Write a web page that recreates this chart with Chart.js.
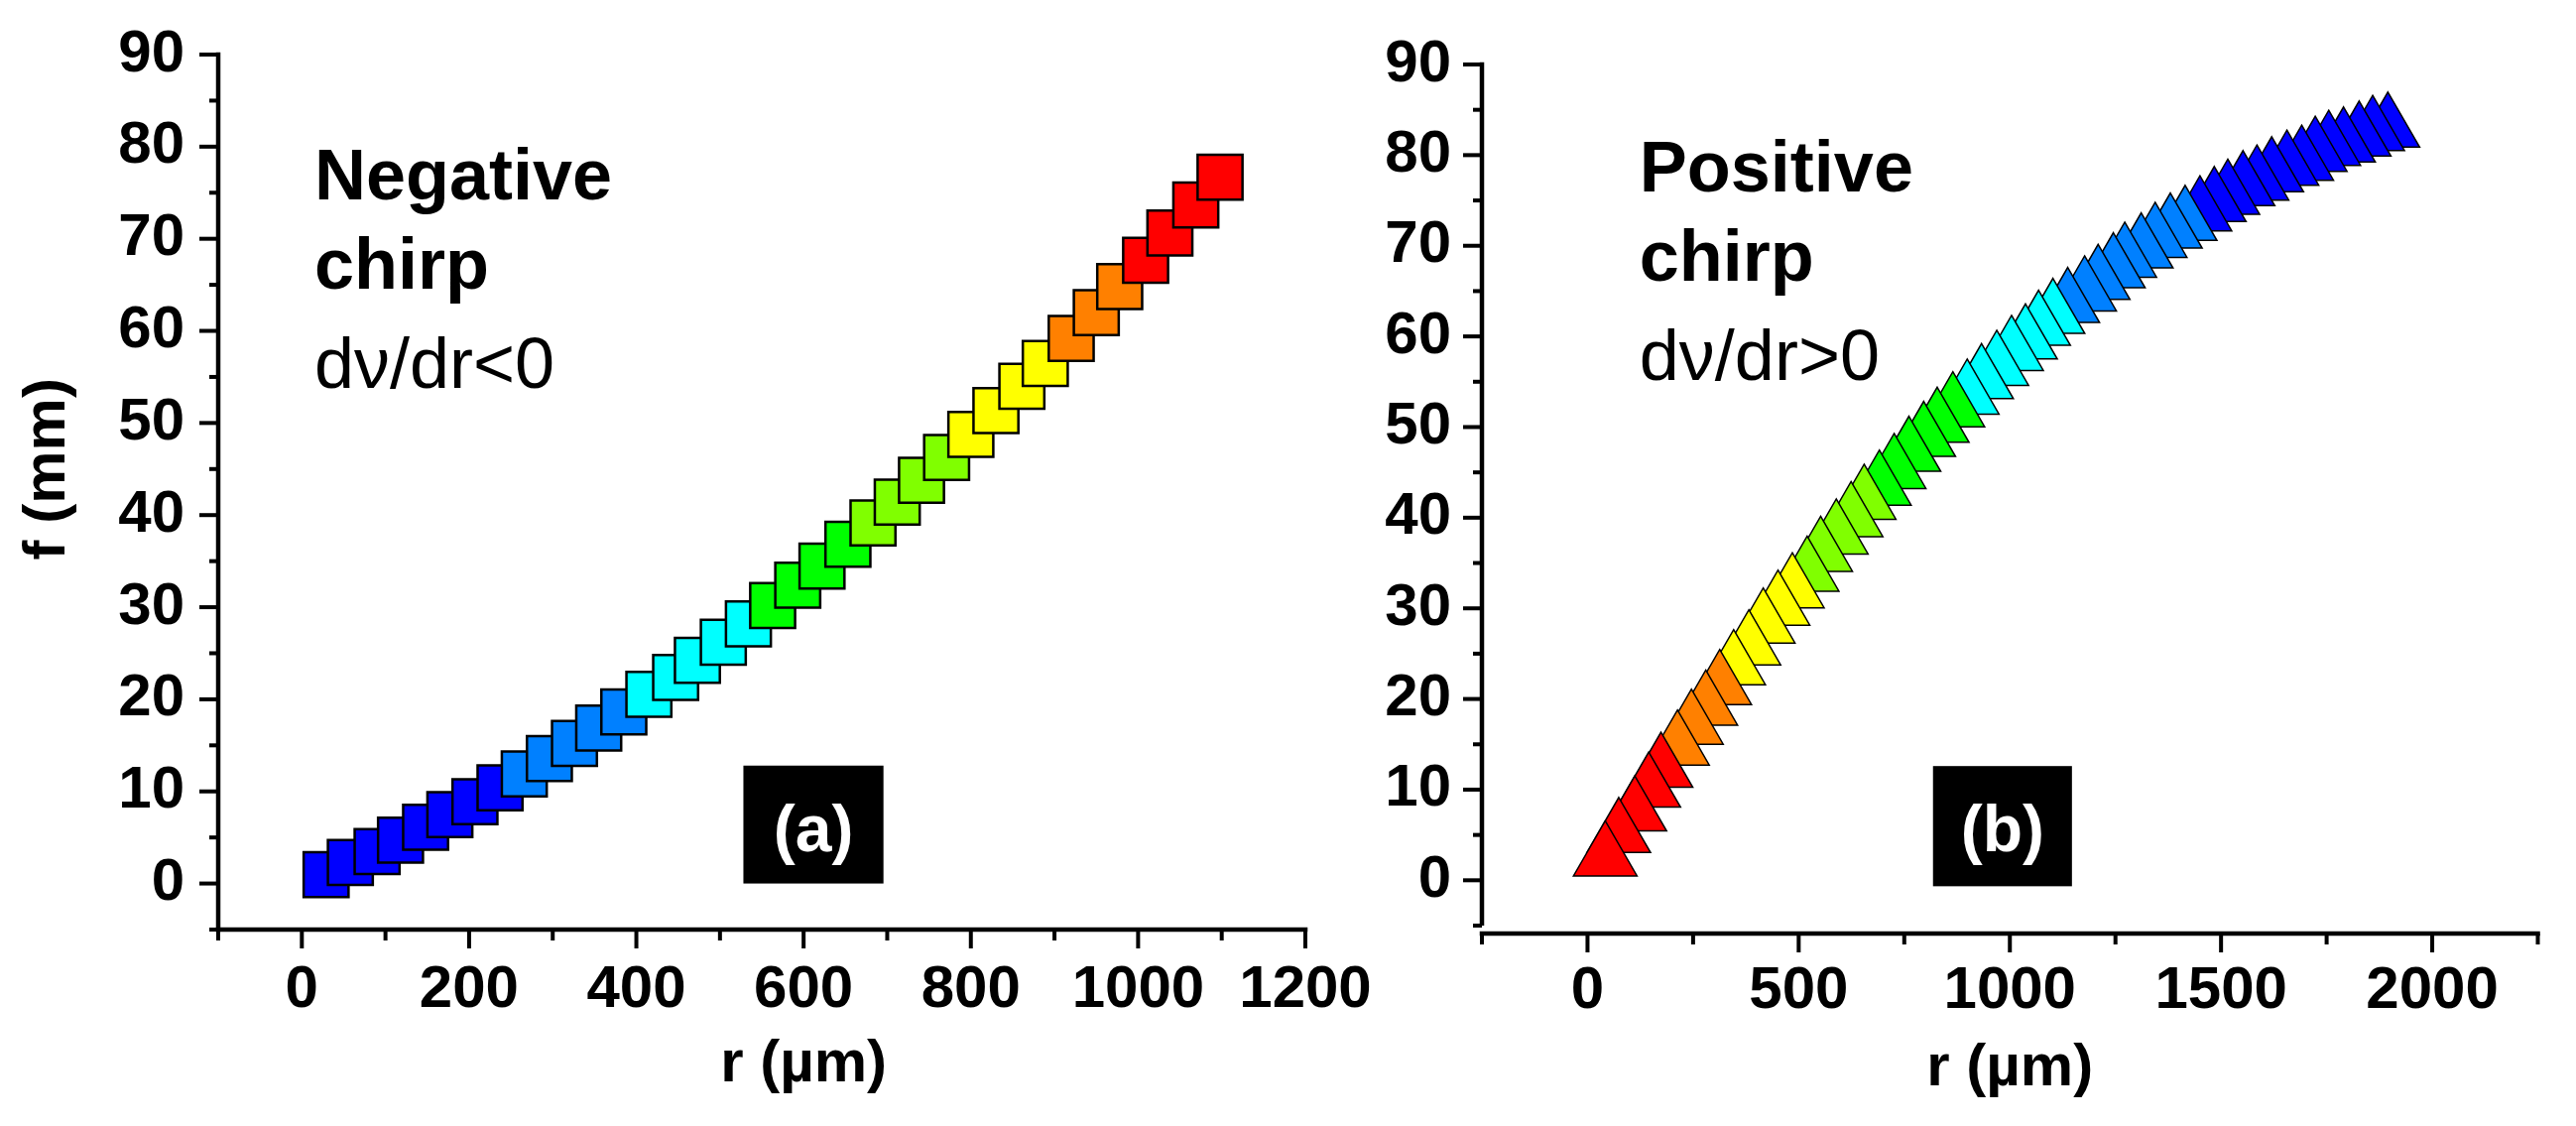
<!DOCTYPE html>
<html>
<head>
<meta charset="utf-8">
<title>Negative and positive chirp: f versus r</title>
<script src="https://cdn.jsdelivr.net/npm/chart.js@4.4.1/dist/chart.umd.min.js"></script>
<style>
  html, body { margin:0; padding:0; background:#ffffff; }
  body { width:2597px; height:1135px; position:relative; overflow:hidden; }
  canvas { position:absolute; top:0; }
  #chartA { left:0; }
  #chartB { left:1330px; }
</style>
</head>
<body>
<canvas id="chartA" width="1400" height="1135" style="width:1400px;height:1135px"></canvas>
<canvas id="chartB" width="1267" height="1135" style="width:1267px;height:1135px"></canvas>
<script>
// ---------------- data ----------------
// (a) Negative chirp : radius r (µm) and focal length f (mm)
const negR = [29, 58, 90, 118, 148, 177, 207, 237, 266, 296, 326, 355, 385, 415, 447, 473, 504, 534, 563, 593,
              622, 653, 683, 712, 741, 771, 800, 830, 861, 889, 920, 950, 978, 1009, 1038, 1069, 1098];
const negF = [0.97, 2.28, 3.47, 4.70, 6.10, 7.47, 8.87, 10.4, 11.91, 13.57, 15.22, 16.88, 18.62, 20.54, 22.37,
              24.23, 26.2, 28.2, 30.19, 32.39, 34.46, 36.83, 39.16, 41.4, 43.78, 46.26, 48.76, 51.34, 53.98,
              56.45, 59.19, 61.99, 64.82, 67.67, 70.62, 73.66, 76.69];
// (b) Positive chirp
const posR = [42, 74, 112, 145, 174, 213, 246, 280, 313, 346, 382, 416, 451, 485, 520, 552, 589, 624, 655, 691,
              726, 761, 796, 828, 865, 899, 933, 969, 1004, 1037, 1068, 1102, 1137, 1177, 1209, 1245, 1272, 1311,
              1344, 1380, 1415, 1450, 1484, 1516, 1552, 1585, 1620, 1656, 1691, 1723, 1755, 1790, 1827, 1859, 1895];
const posF = [2.50, 5.09, 7.47, 10.10, 12.29, 14.73, 17.03, 19.14, 21.41, 23.60, 25.79, 28.19, 30.17, 32.08,
              33.92, 36.11, 38.02, 39.94, 41.85, 43.41, 45.24, 47.14, 48.78, 50.34, 52.06, 53.45, 55.16, 56.63,
              58.27, 59.54, 61.04, 62.36, 63.56, 64.84, 66.11, 67.39, 68.56, 69.58, 70.75, 71.77, 72.62, 73.67,
              74.70, 75.50, 76.45, 77.06, 77.98, 78.70, 79.25, 80.24, 80.89, 81.27, 81.92, 82.54, 82.91];
// tick labels
const fTickLabels   = [0, 10, 20, 30, 40, 50, 60, 70, 80, 90];
const negRTickLabels = [0, 200, 400, 600, 800, 1000, 1200];
const posRTickLabels = [0, 500, 1000, 1500, 2000];

// ---------------- styling ----------------
const FAMILY = '"Liberation Sans", Arial, sans-serif';
Chart.defaults.font.family = 'Liberation Sans';
const tickFont = { family: 'Liberation Sans', size: 60, weight: 'bold' };
const palette = ['#0000FF', '#0080FF', '#00FFFF', '#00FF00', '#80FF00', '#FFFF00', '#FF8000', '#FF0000'];

// 8-level colour map of f (as in the original contour-coloured symbols)
function levelColours(values, reversed) {
  const lo = Math.min(...values), hi = Math.max(...values);
  return values.map(v => {
    let k = Math.min(palette.length - 1, Math.floor((v - lo) / (hi - lo) * palette.length));
    if (reversed) k = palette.length - 1 - k;
    return palette[k];
  });
}

function axis(o) {
  return {
    type: 'linear', position: o.position, min: o.min, max: o.max,
    ticks: {
      stepSize: o.step, autoSkip: false, maxRotation: 0, minRotation: 0,
      padding: o.pad, color: '#000', font: tickFont,
      callback: v => o.labels.includes(v) ? String(v) : ''
    },
    grid: { display: false, drawTicks: false },
    border: { display: false },
    afterFit: s => {
      if (o.position === 'bottom') s.height = o.size; else s.width = o.size;
      s.paddingTop = 0; s.paddingBottom = 0; s.paddingLeft = 0; s.paddingRight = 0;
    }
  };
}

function framePlugin(c) {
  return {
    id: 'frame',
    beforeDatasetsDraw(chart) {
      const { ctx, chartArea: ca, scales: { x, y } } = chart;
      ctx.save();
      ctx.strokeStyle = '#000';
      ctx.fillStyle = '#000';
      const lw = 4.5;
      const xAxisY = ca.bottom + c.xAxisOffset;
      // axis lines
      ctx.lineWidth = lw;
      ctx.beginPath();
      ctx.moveTo(ca.left, y.getPixelForValue(c.yMax) - lw / 2);
      ctx.lineTo(ca.left, y.getPixelForValue(c.yMin) + (c.xAxisOffset ? 0 : lw / 2));
      ctx.stroke();
      ctx.beginPath();
      ctx.moveTo(x.getPixelForValue(c.xMin) - lw / 2, xAxisY);
      ctx.lineTo(x.getPixelForValue(c.xMax) + lw / 2, xAxisY);
      ctx.stroke();
      // tick marks (major + minor)
      ctx.lineWidth = 4;
      for (let v = c.yMin; v <= c.yMax + 1e-9; v += c.yMinor) {
        const py = y.getPixelForValue(v);
        const len = (v % c.yMajor === 0) ? 19 : 9;
        ctx.beginPath(); ctx.moveTo(ca.left - len, py); ctx.lineTo(ca.left, py); ctx.stroke();
      }
      for (let v = c.xMin; v <= c.xMax + 1e-9; v += c.xMinor) {
        const px = x.getPixelForValue(v);
        const len = (v % c.xMajor === 0) ? 19 : 11;
        ctx.beginPath(); ctx.moveTo(px, xAxisY); ctx.lineTo(px, xAxisY + len); ctx.stroke();
      }
      // axis titles
      ctx.font = 'bold 60px ' + FAMILY;
      ctx.textAlign = 'center';
      ctx.textBaseline = 'alphabetic';
      ctx.fillText(c.xTitle, x.getPixelForValue(c.xTitleAt), xAxisY + 153);
      if (c.yTitle) {
        ctx.save();
        ctx.translate(ca.left - 155, y.getPixelForValue(c.yTitleAt));
        ctx.rotate(-Math.PI / 2);
        ctx.fillText(c.yTitle, 0, 0);
        ctx.restore();
      }
      // annotation text
      ctx.textAlign = 'left';
      c.texts.forEach(t => {
        ctx.font = t.font;
        ctx.fillText(t.text, x.getPixelForValue(t.x), y.getPixelForValue(t.y));
      });
      // panel label box
      const b = c.box;
      const bx0 = x.getPixelForValue(b.x0), bx1 = x.getPixelForValue(b.x1);
      const by0 = y.getPixelForValue(b.y0), by1 = y.getPixelForValue(b.y1);
      ctx.fillStyle = '#000';
      ctx.fillRect(bx0, by1, bx1 - bx0, by0 - by1);
      ctx.fillStyle = '#fff';
      ctx.font = 'bold 66px ' + FAMILY;
      ctx.textAlign = 'center';
      ctx.fillText(b.label, (bx0 + bx1) / 2, y.getPixelForValue(b.ly));
      ctx.restore();
    }
  };
}

function makeChart(id, c) {
  return new Chart(document.getElementById(id), {
    type: 'scatter',
    data: {
      datasets: [{
        data: c.points,
        showLine: false,
        clip: false,
        pointStyle: c.marker,
        pointRadius: c.radius,
        pointHoverRadius: c.radius,
        pointBorderWidth: c.borderWidth,
        pointBorderColor: '#000000',
        pointBackgroundColor: c.colours
      }]
    },
    options: {
      responsive: false,
      devicePixelRatio: 1,
      animation: false,
      events: [],
      layout: { padding: c.padding },
      plugins: { legend: { display: false }, tooltip: { enabled: false } },
      scales: {
        x: axis({ position: 'bottom', min: c.xMin, max: c.xMax, step: c.xMinor, pad: c.xPad,
                  labels: c.xLabels, size: c.xAxisH }),
        y: axis({ position: 'left', min: c.yMin, max: c.yMax, step: c.yMinor, pad: c.yPad,
                  labels: fTickLabels, size: c.yAxisW })
      }
    },
    plugins: [framePlugin(c)]
  });
}

// ---------------- panel (a) ----------------
const negColours = levelColours(negF, false);
makeChart('chartA', {
  points: negR.map((r, i) => ({ x: r, y: negF[i] })),
  colours: negColours,
  marker: 'rect', radius: 32, borderWidth: 2.5,
  padding: { left: 0, top: 55, right: 84, bottom: 0 },
  yAxisW: 220, xAxisH: 198, xAxisOffset: 0,
  xMin: -100, xMax: 1200, xMinor: 100, xMajor: 200, xPad: 25, xLabels: negRTickLabels,
  yMin: -5, yMax: 90, yMinor: 5, yMajor: 10, yPad: 34,
  xTitle: 'r (\u00B5m)', xTitleAt: 600,
  yTitle: 'f (mm)', yTitleAt: 45,
  texts: [
    { text: 'Negative', x: 15, y: 74.3, font: 'bold 72px ' + FAMILY },
    { text: 'chirp', x: 15, y: 64.6, font: 'bold 72px ' + FAMILY },
    { text: 'd\u03BD/dr<0', x: 15, y: 53.8, font: '72px ' + FAMILY }
  ],
  box: { x0: 528, x1: 695.5, y0: 0, y1: 12.8, label: '(a)', ly: 3.5 }
});

// ---------------- panel (b) ----------------
// symbols of smaller r lie on top, so they are drawn last
const posColoursAsc = levelColours(posF, true);
const posPts = posR.map((r, i) => ({ x: r, y: posF[i], c: posColoursAsc[i] })).reverse();
makeChart('chartB', {
  points: posPts.map(p => ({ x: p.x, y: p.y })),
  colours: posPts.map(p => p.c),
  marker: 'triangle', radius: 37, borderWidth: 1.5,
  padding: { left: 0, top: 65, right: 27, bottom: 0 },
  yAxisW: 164, xAxisH: 202, xAxisOffset: 8,
  xMin: -250, xMax: 2250, xMinor: 250, xMajor: 500, xPad: 30, xLabels: posRTickLabels,
  yMin: -5, yMax: 90, yMinor: 5, yMajor: 10, yPad: 31,
  xTitle: 'r (\u00B5m)', xTitleAt: 1000,
  yTitle: null,
  texts: [
    { text: 'Positive', x: 123, y: 76.0, font: 'bold 72px ' + FAMILY },
    { text: 'chirp', x: 123, y: 66.1, font: 'bold 72px ' + FAMILY },
    { text: 'd\u03BD/dr>0', x: 123, y: 55.2, font: '72px ' + FAMILY }
  ],
  box: { x0: 818, x1: 1147, y0: -0.66, y1: 12.6, label: '(b)', ly: 3.2 }
});
</script>
</body>
</html>
